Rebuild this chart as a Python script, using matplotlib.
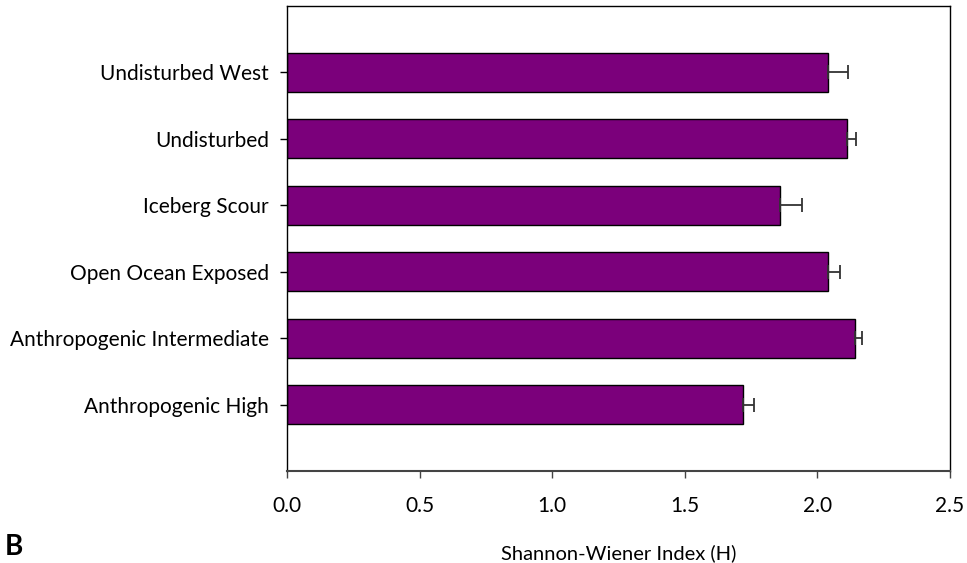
import matplotlib
matplotlib.use("Agg")
import matplotlib.pyplot as plt

# Shannon-Wiener diversity per site category (mean and standard error)
categories = ["Anthropogenic High", "Anthropogenic Intermediate", "Open Ocean Exposed",
              "Iceberg Scour", "Undisturbed", "Undisturbed West"]
means = [1.72, 2.14, 2.04, 1.86, 2.11, 2.04]
errors = [0.042, 0.029, 0.045, 0.082, 0.034, 0.076]
x_ticks = [0.0, 0.5, 1.0, 1.5, 2.0, 2.5]
x_tick_labels = ["0.0", "0.5", "1.0", "1.5", "2.0", "2.5"]

plt.rcParams["font.family"] = ["Lato", "DejaVu Sans"]

fig = plt.figure(figsize=(9.67, 5.63), dpi=100)
ax = fig.add_axes([0.2968, 0.1634, 0.6856, 0.8259])

pos = list(range(len(categories)))
ax.barh(pos, means, height=0.59, color="#7B007B", edgecolor="black", linewidth=1.0, zorder=2)
ax.errorbar(means, pos, xerr=[[0] * len(errors), errors], fmt="none",
            ecolor="#333333", elinewidth=1.3, capsize=5, capthick=1.3, zorder=3)

ax.set_xlim(0, 2.5)
ax.set_ylim(-1, 6)
ax.set_xticks(x_ticks)
ax.set_xticklabels(x_tick_labels)
ax.set_yticks(pos)
ax.set_yticklabels(categories)

ax.tick_params(axis="y", direction="out", length=5, width=1, pad=8, labelsize=15, colors="black")
ax.tick_params(axis="x", direction="out", length=5, width=1, pad=13, labelsize=15, color="#444444")

for side in ["left", "top", "right"]:
    ax.spines[side].set_color("black")
    ax.spines[side].set_linewidth(1.0)
ax.spines["bottom"].set_color("#444444")
ax.spines["bottom"].set_linewidth(1.5)

ax.set_xlabel("Shannon-Wiener Index (H)", fontsize=14.5, labelpad=20)

# Panel letter
fig.text(0.005, 3 / 563, "B", fontsize=20, fontweight="bold", ha="left", va="bottom")

fig.savefig("out.png", dpi=100)
